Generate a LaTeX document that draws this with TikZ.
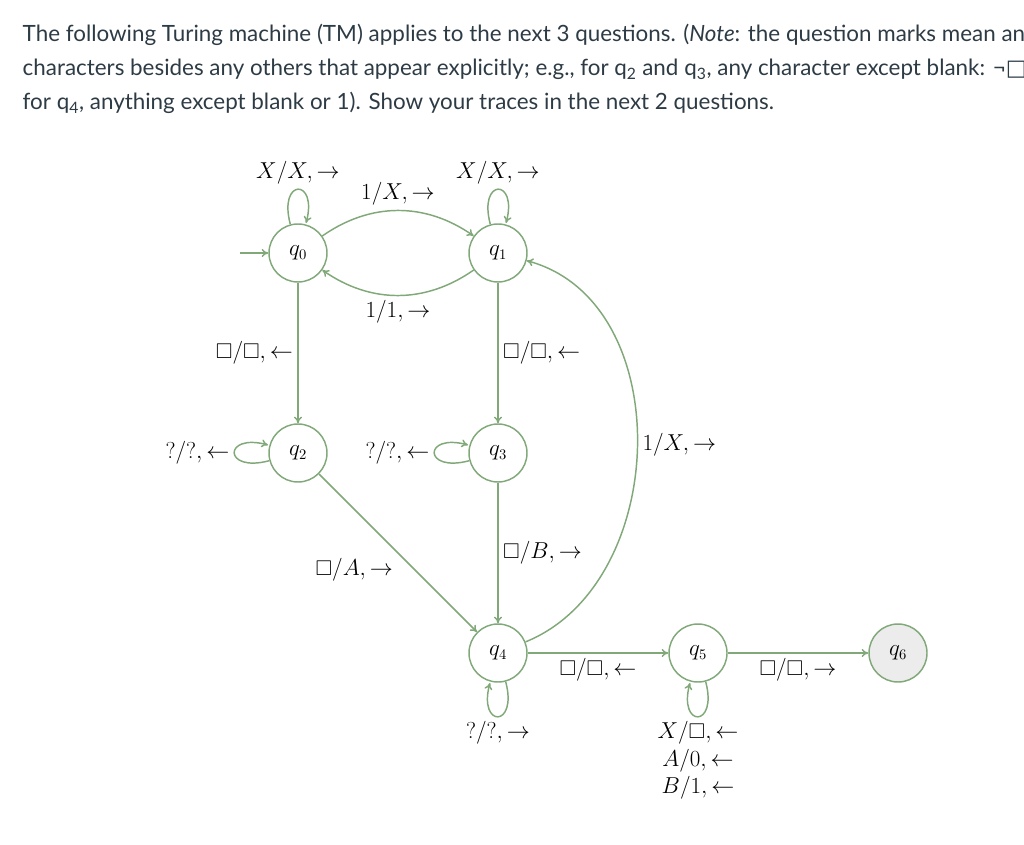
\documentclass[tikz,border=0pt]{standalone}
\usepackage{amssymb}
\usepackage{fontspec}
\setmainfont{Lato}
\newfontfamily\symfont{DejaVu Sans}
\usetikzlibrary{arrows.meta,automata,positioning}
\definecolor{tmgreen}{RGB}{128,168,120}
\definecolor{canvastext}{RGB}{45,59,69}

\begin{document}
\begin{tikzpicture}[x=0.75pt, y=-0.75pt, >={To[length=5pt,width=6pt]}, node distance=150pt, on grid, auto,
font=\fontsize{16}{19}\selectfont,
state/.style={circle, draw=tmgreen, line width=1.1pt, minimum size=43.5pt, inner sep=0pt},
haltstate/.style={state, fill=gray!15},
intro/.style={anchor=base west, text=canvastext, font=\fontsize{16.8}{20}\selectfont},
every edge/.style={draw=tmgreen, line width=1.1pt}]
  \useasboundingbox (0,0) rectangle (1024,845);
  \node[intro] (line1) at (18,42) {The following Turing machine (TM) applies to the next 3 questions. (\textit{Note}: the question marks mean any};
  \node[intro] (line2) at (18,76) {characters besides any others that appear explicitly; e.g., for q\textsubscript{2} and q\textsubscript{3}, any character except blank: ¬{\symfont □}};
  \node[intro] (line3) at (18,110) {for q\textsubscript{4}, anything except blank or 1). Show your traces in the next 2 questions.};

  \node[state] (q0) at (298,253) {$q_0$};
  \node[state] (q1) [right=of q0] {$q_1$};
  \node[state] (q2) [below=of q0] {$q_2$};
  \node[state] (q3) [below=of q1] {$q_3$};
  \node[state] (q4) [below=of q3] {$q_4$};
  \node[state] (q5) [right=of q4] {$q_5$};
  \node[haltstate] (q6) [right=of q5] {$q_6$};
  \coordinate (init) at (240,253);

  \draw[->, tmgreen, line width=1.1pt] (init) -- (q0);
  \path[->]
    (q0) edge[loop above] node {$X/X,\rightarrow$} ()
         edge[bend left=35] node {$1/X,\rightarrow$} (q1)
         edge node[left] {$\square/\square,\leftarrow$} (q2)
    (q1) edge[loop above] node {$X/X,\rightarrow$} ()
         edge[bend left=35] node {$1/1,\rightarrow$} (q0)
         edge node[right] {$\square/\square,\leftarrow$} (q3)
    (q2) edge[loop left] node {$?/?,\leftarrow$} ()
         edge node[below left] {$\square/A,\rightarrow$} (q4)
    (q3) edge[loop left] node {$?/?,\leftarrow$} ()
         edge node[right] {$\square/B,\rightarrow$} (q4)
    (q4) edge[loop below] node {$?/?,\rightarrow$} ()
         edge[out=22, in=-15, looseness=1.05] node[right] {$1/X,\rightarrow$} (q1)
         edge node[below] {$\square/\square,\leftarrow$} (q5)
    (q5) edge[loop below] node[align=center, font=\fontsize{16}{20.5}\selectfont] {$X/\square,\leftarrow$\\$A/0,\leftarrow$\\$B/1,\leftarrow$} ()
         edge node[below] {$\square/\square,\rightarrow$} (q6);
\end{tikzpicture}
\end{document}
